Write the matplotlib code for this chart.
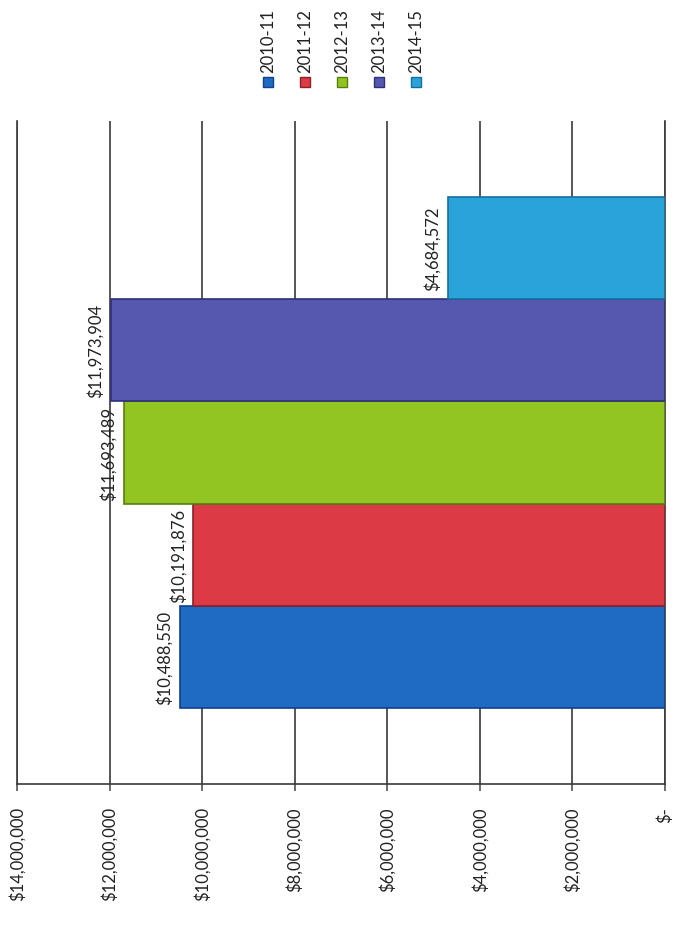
import matplotlib
matplotlib.use('Agg')
import matplotlib.pyplot as plt
from matplotlib.ticker import FuncFormatter
from matplotlib.patches import Rectangle

plt.rcParams['font.family'] = ['Lato', 'DejaVu Sans']

years = ['2010-11', '2011-12', '2012-13', '2013-14', '2014-15']
values = [10488550, 10191876, 11693489, 11973904, 4684572]
tick_values = [0, 2000000, 4000000, 6000000, 8000000, 10000000, 12000000, 14000000]

colors = ['#1F6BC4', '#DC3A44', '#93C522', '#5658B0', '#2AA3DA']
edges = ['#12408A', '#8E1F26', '#5A7E12', '#2E307A', '#16709E']

W, H = 680, 928
fig = plt.figure(figsize=(W / 100, H / 100), dpi=100)
ax = fig.add_axes([17 / W, (H - 785) / H, (665 - 17) / W, (785 - 122) / H])

pos = list(range(len(years)))
ax.barh(pos, values, height=1.0, color=colors, edgecolor=edges, linewidth=1.2, zorder=3)
ax.set_xlim(14000000, 0)
ax.set_ylim(-0.5 - 0.74, len(years) - 0.5 + 0.74)

ax.set_xticks(tick_values)
ax.xaxis.set_major_formatter(FuncFormatter(lambda v, p: '$-' if v == 0 else f'${v:,.0f}'))
ax.tick_params(axis='x', direction='out', length=5, width=1.1, color='#444444',
               pad=11, labelrotation=90, labelsize=12, labelcolor='#222222')
ax.set_yticks([])
ax.xaxis.grid(True, color='#3a3a3a', linewidth=1.2, zorder=0)
ax.set_axisbelow(True)

ax.spines['top'].set_visible(False)
for s in ['left', 'right', 'bottom']:
    ax.spines[s].set_color('#3a3a3a')
    ax.spines[s].set_linewidth(1.2)

for i, v in enumerate(values):
    ax.annotate(f'${v:,.0f}', xy=(v, i), xytext=(-5, 0), textcoords='offset points',
                rotation=90, ha='right', va='center', fontsize=12, color='#222222')

for i, yr in enumerate(years):
    xc = 268 + 37 * i
    fig.text(xc / W, 1 - 73 / H, yr, rotation=90, ha='center', va='bottom',
             fontsize=12, color='#222222')
    fig.patches.append(Rectangle(((xc - 5) / W, 1 - 88 / H), 10 / W, 10 / H,
                                 transform=fig.transFigure, facecolor=colors[i],
                                 edgecolor=edges[i], linewidth=1))

fig.savefig('out.png', dpi=100)
